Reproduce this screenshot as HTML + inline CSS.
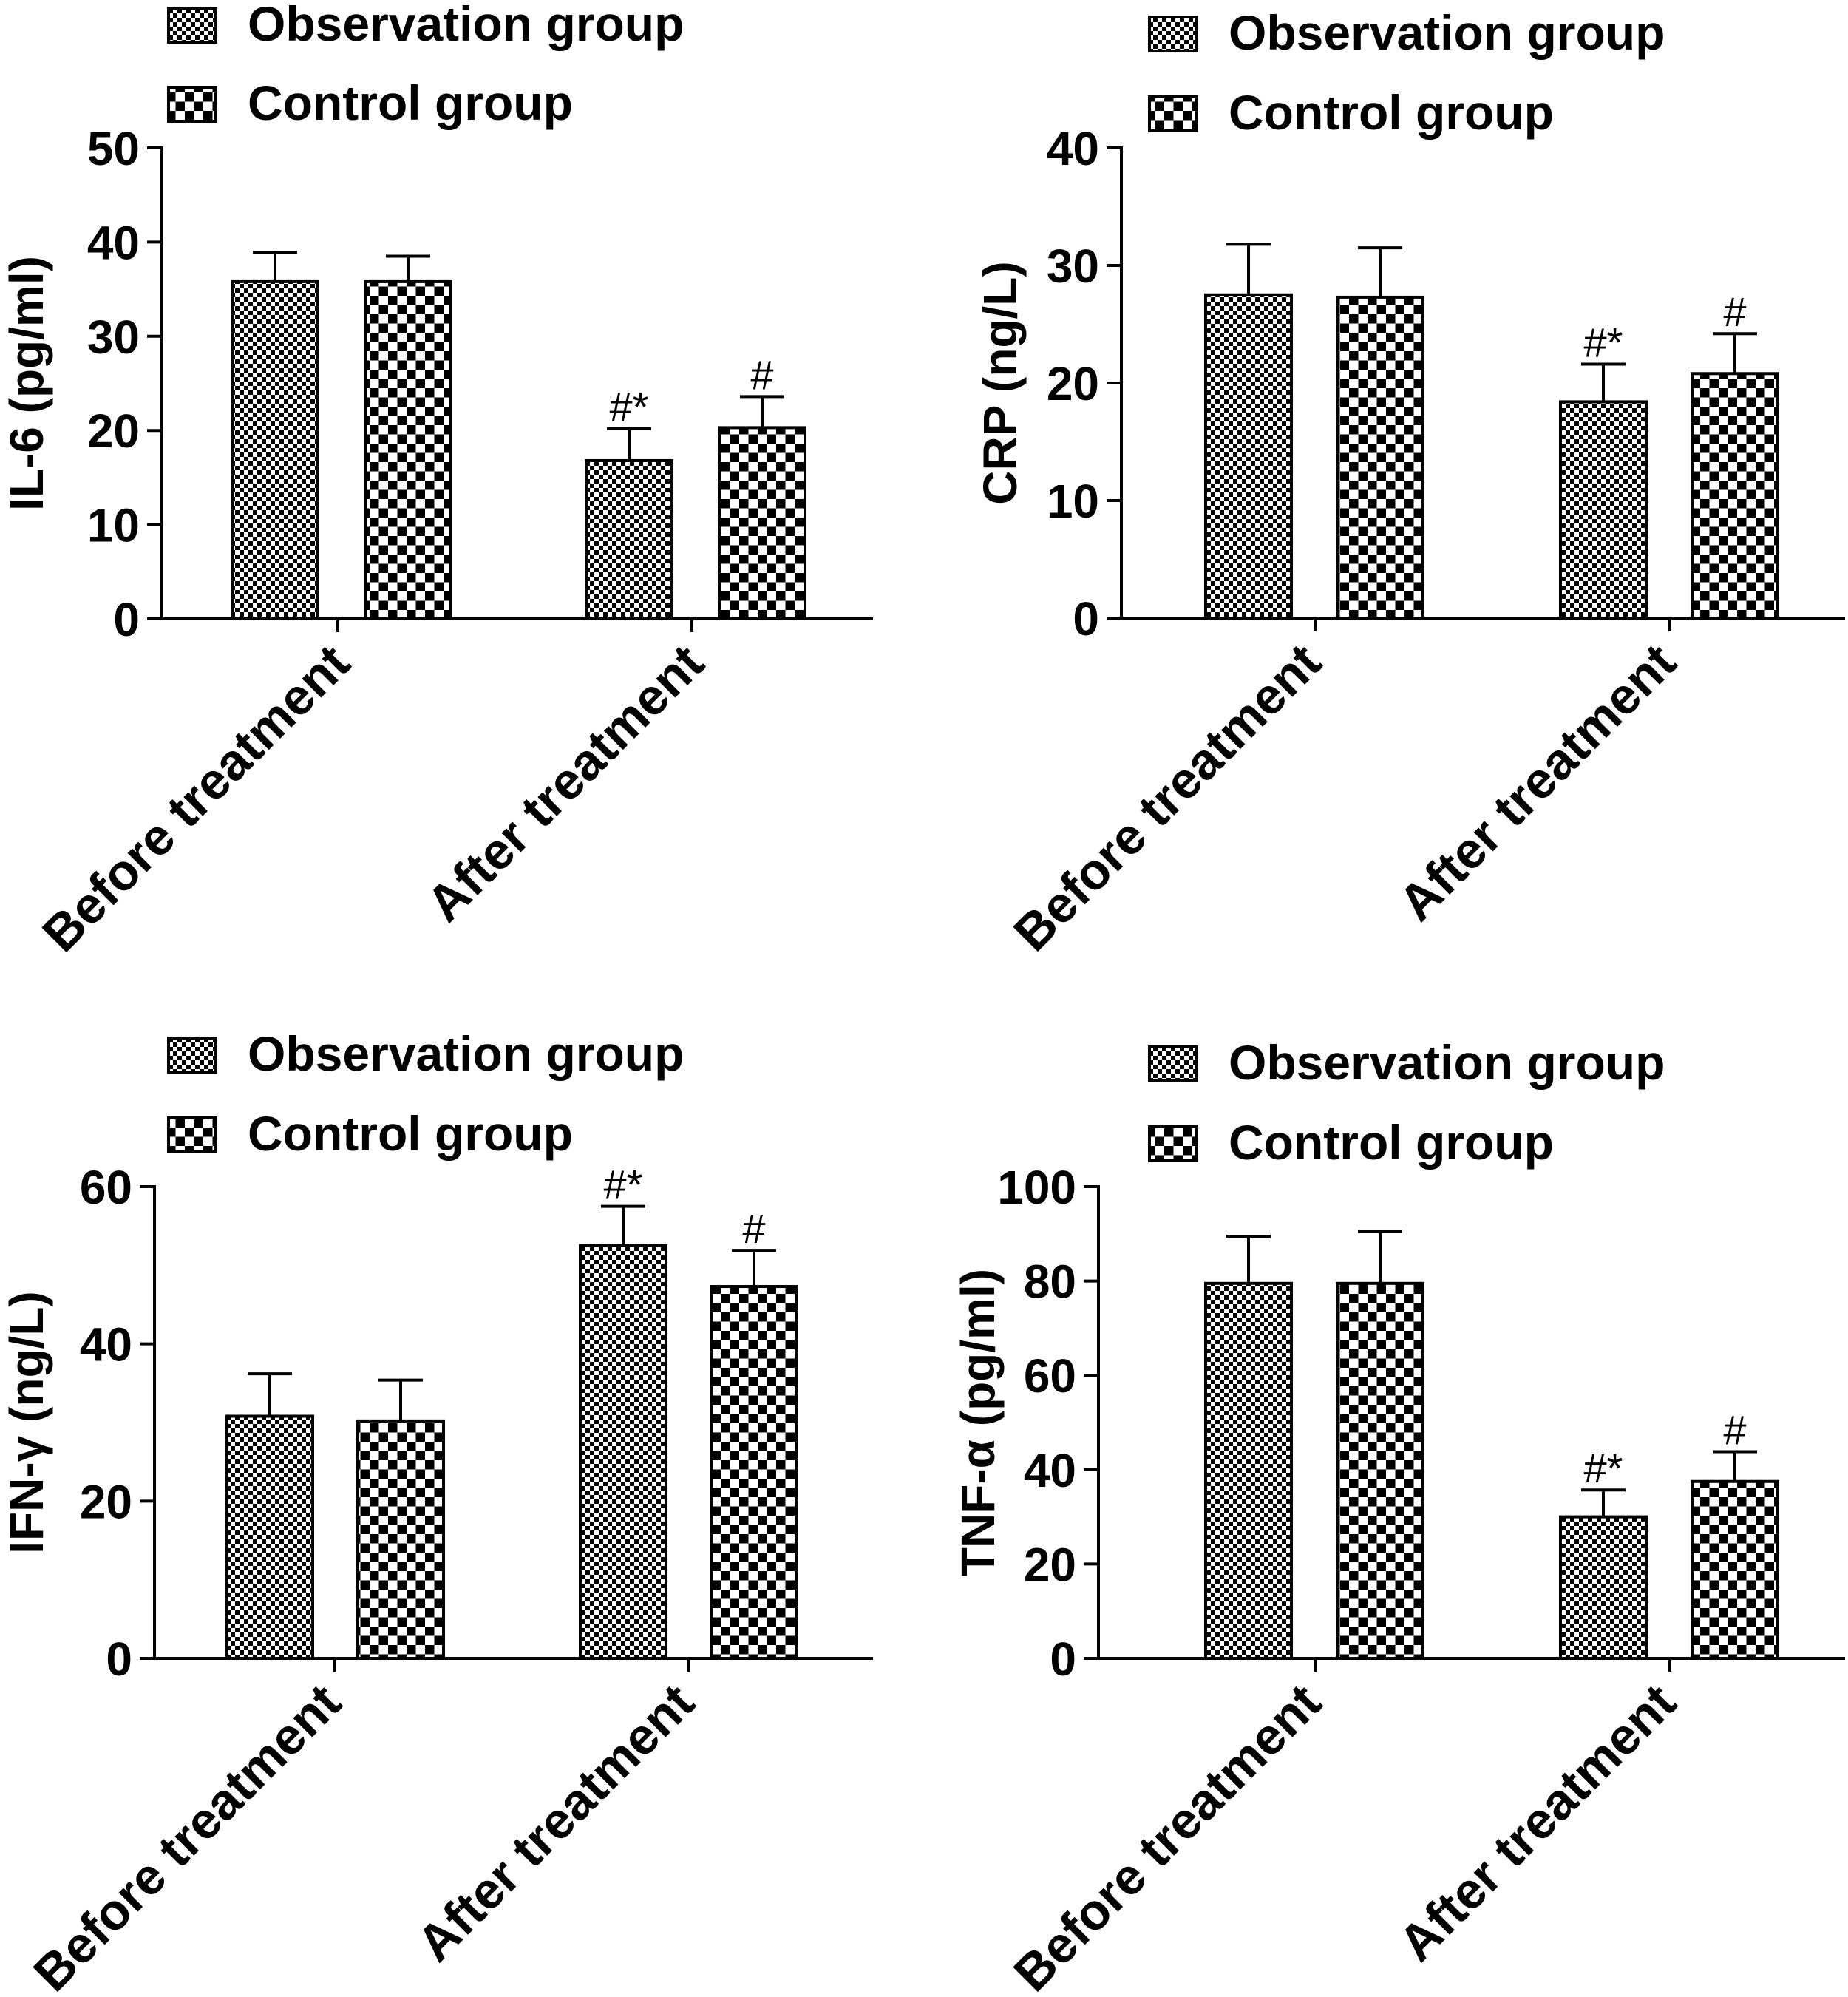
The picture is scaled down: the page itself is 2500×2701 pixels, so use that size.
<!DOCTYPE html>
<html><head><meta charset="utf-8"><style>
html,body{margin:0;padding:0;background:#fff;}
svg{display:block;font-family:"Liberation Sans",Arial,sans-serif;font-weight:bold;}
</style></head><body>
<svg id="fig" width="2500" height="2701" viewBox="0 0 2500 2701" xmlns="http://www.w3.org/2000/svg">
<defs>
<pattern id="fine" patternUnits="userSpaceOnUse" width="12" height="12"><rect width="12" height="12" fill="#fff"/><rect width="6" height="6" fill="#000"/><rect x="6" y="6" width="6" height="6" fill="#000"/></pattern>
<pattern id="coarse" patternUnits="userSpaceOnUse" width="25" height="25"><rect width="25" height="25" fill="#fff"/><rect width="12.5" height="12.5" fill="#000"/><rect x="12.5" y="12.5" width="12.5" height="12.5" fill="#000"/></pattern>
</defs>
</svg>
<script>
const categories = ["Before treatment", "After treatment"];
const seriesNames = ["Observation group", "Control group"];
// IL-6
const il6Obs = [35.8, 16.8];
const il6Ctrl = [35.8, 20.3];
const il6ObsErr = [3.1, 3.4];
const il6CtrlErr = [2.7, 3.3];
const il6Ticks = [0, 10, 20, 30, 40, 50];
const il6Marks = [["", ""], ["#*", "#"]];
// CRP
const crpObs = [27.5, 18.4];
const crpCtrl = [27.3, 20.8];
const crpObsErr = [4.3, 3.2];
const crpCtrlErr = [4.2, 3.4];
const crpTicks = [0, 10, 20, 30, 40];
const crpMarks = [["", ""], ["#*", "#"]];
// IFN-gamma
const ifnObs = [30.8, 52.5];
const ifnCtrl = [30.2, 47.3];
const ifnObsErr = [5.4, 5.0];
const ifnCtrlErr = [5.2, 4.6];
const ifnTicks = [0, 20, 40, 60];
const ifnMarks = [["", ""], ["#*", "#"]];
// TNF-alpha
const tnfObs = [79.5, 30.0];
const tnfCtrl = [79.5, 37.5];
const tnfObsErr = [10.0, 5.7];
const tnfCtrlErr = [11.0, 6.3];
const tnfTicks = [0, 20, 40, 60, 80, 100];
const tnfMarks = [["", ""], ["#*", "#"]];

const NS = "http://www.w3.org/2000/svg";
const svg = document.getElementById("fig");
function mk(tag, attrs, parent) {
  const e = document.createElementNS(NS, tag);
  for (const k in attrs) e.setAttribute(k, attrs[k]);
  (parent || svg).appendChild(e);
  return e;
}

function panel(cfg) {
  const g = mk("g", {});
  
  
  const ymax = cfg.ticks[cfg.ticks.length - 1];
  const yScale = v => cfg.y0 - (v / ymax) * (cfg.y0 - cfg.yTop);
  const pats = ["url(#fine)", "url(#coarse)"];
  for (let i = 0; i < 2; i++) {
    const le = mk("g", {}, g);
    
    
    const ly = cfg.legY[i];
    mk("rect", {x: cfg.legX, y: ly - 22, width: 64, height: 46, fill: pats[i], stroke: "#000", "stroke-width": 4}, le);
    const t = mk("text", {x: cfg.legX + 107, y: ly + 22, "font-size": 66, fill: "#000"}, le);
    t.textContent = seriesNames[i];
  }
  const ya = mk("line", {x1: cfg.ax, y1: cfg.yTop - 2, x2: cfg.ax, y2: cfg.y0 + 2, stroke: "#000", "stroke-width": 4}, g);
  
  
  cfg.ticks.forEach(v => {
    const y = yScale(v);
    mk("line", {x1: cfg.ax - 20, y1: y, x2: cfg.ax, y2: y, stroke: "#000", "stroke-width": 4}, g);
    const t = mk("text", {x: cfg.ax - 30, y: y + 23, "font-size": 64, "text-anchor": "end", fill: "#000"}, g);
    
    
    t.textContent = v;
  });
  const yt = mk("text", {x: 0, y: 0, "font-size": 64, "text-anchor": "middle", fill: "#000",
    transform: `translate(${cfg.titleX},${(cfg.y0 + cfg.yTop) / 2}) rotate(-90)`}, g);
  
  
  yt.textContent = cfg.title;
  const xa = mk("line", {x1: cfg.ax - 20, y1: cfg.y0, x2: cfg.xEnd, y2: cfg.y0, stroke: "#000", "stroke-width": 4}, g);
  
  
  categories.forEach((c, ci) => {
    const tx = cfg.catX[ci];
    mk("line", {x1: tx, y1: cfg.y0, x2: tx, y2: cfg.y0 + 18, stroke: "#000", "stroke-width": 4}, g);
    const t = mk("text", {x: 0, y: 0, "font-size": 69, "text-anchor": "end", fill: "#000",
      transform: `translate(${tx + cfg.lblDx},${cfg.y0 + 64}) rotate(-45)`}, g);
    
    
    t.textContent = c;
    const vals = [cfg.obs[ci], cfg.ctrl[ci]];
    const errs = [cfg.obsErr[ci], cfg.ctrlErr[ci]];
    for (let s = 0; s < 2; s++) {
      const bx = tx + cfg.barOff[s];
      const w = cfg.barW;
      const top = yScale(vals[s]);
      const eTop = yScale(vals[s] + errs[s]);
      const cx = bx + w / 2;
      const el = mk("line", {x1: cx, y1: top, x2: cx, y2: eTop, stroke: "#000", "stroke-width": 4}, g);
      
      
      mk("line", {x1: cx - 30, y1: eTop, x2: cx + 30, y2: eTop, stroke: "#000", "stroke-width": 4}, g);
      const r = mk("rect", {x: bx, y: top, width: w, height: cfg.y0 - top, fill: pats[s], stroke: "#000", "stroke-width": 4}, g);
      
      
      const m = cfg.marks[ci][s];
      if (m) {
        const at = mk("text", {x: cx, y: eTop - 10, "font-size": 56, "font-weight": "normal", "text-anchor": "middle", fill: "#000"}, g);
        
        
        at.textContent = m;
      }
    }
  });
}

panel({name: "il6-panel", title: "IL-6 (pg/ml)", obs: il6Obs, ctrl: il6Ctrl, obsErr: il6ObsErr, ctrlErr: il6CtrlErr, ticks: il6Ticks, marks: il6Marks,
  ax: 219, y0: 837, yTop: 200, xEnd: 1181, catX: [457, 936], barOff: [-143, 37], barW: 116, titleX: 58, legX: 228, legY: [33, 140], lblDx: 20});
panel({name: "crp-panel", title: "CRP (ng/L)", obs: crpObs, ctrl: crpCtrl, obsErr: crpObsErr, ctrlErr: crpCtrlErr, ticks: crpTicks, marks: crpMarks,
  ax: 1517, y0: 836, yTop: 200, xEnd: 2496, catX: [1779, 2259], barOff: [-148, 30], barW: 116, titleX: 1375, legX: 1555, legY: [45, 153], lblDx: 12});
panel({name: "ifn-panel", title: "IFN-γ (ng/L)", obs: ifnObs, ctrl: ifnCtrl, obsErr: ifnObsErr, ctrlErr: ifnCtrlErr, ticks: ifnTicks, marks: ifnMarks,
  ax: 209, y0: 2243, yTop: 1605, xEnd: 1181, catX: [453, 931], barOff: [-146, 31], barW: 116, titleX: 58, legX: 228, legY: [1426, 1534], lblDx: 12});
panel({name: "tnf-panel", title: "TNF-α (pg/ml)", obs: tnfObs, ctrl: tnfCtrl, obsErr: tnfObsErr, ctrlErr: tnfCtrlErr, ticks: tnfTicks, marks: tnfMarks,
  ax: 1486, y0: 2243, yTop: 1605, xEnd: 2496, catX: [1779, 2259], barOff: [-148, 30], barW: 116, titleX: 1345, legX: 1555, legY: [1438, 1546], lblDx: 12});
</script>
</body></html>
